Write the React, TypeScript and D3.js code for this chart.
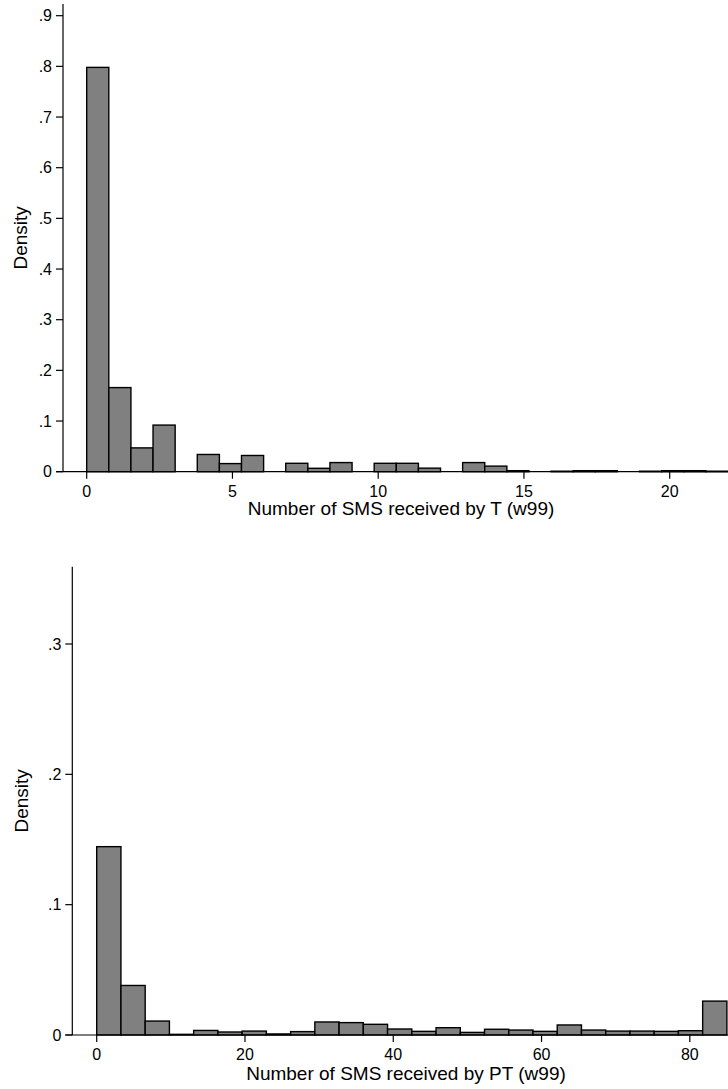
import React from "react";
import * as d3 from "d3";

// ---- Data ----
// Top histogram: Number of SMS received by T (w99), 29 bins over [0, 22]
const topBinWidth = 22 / 29;
const topDensity = [
  0.798, 0.166, 0.047, 0.092, 0, 0.034, 0.016, 0.032, 0, 0.0166, 0.0067, 0.018,
  0, 0.0166, 0.0166, 0.007, 0, 0.018, 0.011, 0.002, 0, 0.001, 0.002, 0.002, 0,
  0.001, 0.002, 0.002, 0.001,
];
const topXTicks = [0, 5, 10, 15, 20];
const topYTicks = [0, 0.1, 0.2, 0.3, 0.4, 0.5, 0.6, 0.7, 0.8, 0.9];
const topTitle = "Number of SMS received by T (w99)";

// Bottom histogram: Number of SMS received by PT (w99), 26 bins over [0, 85]
const botBinWidth = 85 / 26;
const botDensity = [
  0.1445, 0.038, 0.0107, 0.0005, 0.0035, 0.0023, 0.003, 0.0008, 0.0026, 0.01,
  0.0095, 0.0082, 0.0046, 0.0028, 0.0056, 0.002, 0.0044, 0.0038, 0.0028, 0.0077,
  0.0038, 0.003, 0.003, 0.0028, 0.0033, 0.026,
];
const botXTicks = [0, 20, 40, 60, 80];
const botYTicks = [0, 0.1, 0.2, 0.3];
const botTitle = "Number of SMS received by PT (w99)";
const yLabel = "Density";

const FONT = "'Liberation Sans', Arial, Helvetica, sans-serif";
const fmtY = (v: number) => (v === 0 ? "0" : d3.format(".1f")(v).replace(/^0/, ""));

type PanelProps = {
  density: number[];
  binWidth: number;
  xDomainMax: number;
  xRange: [number, number];
  yDomainMax: number;
  yRange: [number, number];
  axisTop: number;
  axisX: number;
  xTicks: number[];
  yTicks: number[];
  title: string;
  titleX: number;
  titleY: number;
  tickLabelY: number;
  densityX: number;
};

function Panel(p: PanelProps) {
  const x = d3.scaleLinear().domain([0, p.xDomainMax]).range(p.xRange);
  const y = d3.scaleLinear().domain([0, p.yDomainMax]).range(p.yRange);
  const y0 = y(0);
  return (
    <g>
      {p.density.map((d, i) => (
        <rect
          key={i}
          x={x(i * p.binWidth)}
          y={y(d)}
          width={x((i + 1) * p.binWidth) - x(i * p.binWidth)}
          height={Math.max(0, y0 - y(d))}
          fill="#808080"
          stroke="#000"
          strokeWidth={1.4}
        />
      ))}
      {/* y axis */}
      <line x1={p.axisX} x2={p.axisX} y1={p.axisTop} y2={y0} stroke="#000" strokeWidth={1.2} />
      {p.yTicks.map((t) => (
        <g key={t}>
          <line x1={p.axisX - 7} x2={p.axisX} y1={y(t)} y2={y(t)} stroke="#000" strokeWidth={1.2} />
          <text
            x={p.axisX - 11}
            y={y(t)}
            dy="0.36em"
            textAnchor="end"
            fontSize={16}
            fontFamily={FONT}
            fill="#000"
          >
            {fmtY(t)}
          </text>
        </g>
      ))}
      {/* x axis */}
      <line x1={p.axisX - 7} x2={728} y1={y0} y2={y0} stroke="#000" strokeWidth={1.2} />
      {p.xTicks.map((t) => (
        <g key={t}>
          <line x1={x(t)} x2={x(t)} y1={y0} y2={y0 + 7} stroke="#000" strokeWidth={1.2} />
          <text x={x(t)} y={p.tickLabelY} textAnchor="middle" fontSize={16} fontFamily={FONT} fill="#000">
            {t}
          </text>
        </g>
      ))}
      <text x={p.titleX} y={p.titleY} textAnchor="middle" fontSize={19} fontFamily={FONT} fill="#000">
        {p.title}
      </text>
      <text
        transform={`translate(${p.densityX},${(p.axisTop + y0) / 2}) rotate(-90)`}
        textAnchor="middle"
        dy="0.36em"
        fontSize={19}
        fontFamily={FONT}
        fill="#000"
      >
        {yLabel}
      </text>
    </g>
  );
}

export default function App() {
  return (
    <svg
      width={728}
      height={1089}
      style={{ position: "absolute", left: 0, top: 0, background: "#fff", display: "block" }}
    >
      <rect x={0} y={0} width={728} height={1089} fill="#fff" />
      <Panel
        density={topDensity}
        binWidth={topBinWidth}
        xDomainMax={22}
        xRange={[86.7, 728]}
        yDomainMax={0.9}
        yRange={[471.7, 15.7]}
        axisTop={4}
        axisX={63}
        xTicks={topXTicks}
        yTicks={topYTicks}
        title={topTitle}
        titleX={401}
        titleY={515}
        tickLabelY={497}
        densityX={20}
      />
      <Panel
        density={botDensity}
        binWidth={botBinWidth}
        xDomainMax={85}
        xRange={[96.7, 726.9]}
        yDomainMax={0.3}
        yRange={[1035, 644]}
        axisTop={566.7}
        axisX={72.3}
        xTicks={botXTicks}
        yTicks={botYTicks}
        title={botTitle}
        titleX={406}
        titleY={1080}
        tickLabelY={1060}
        densityX={21}
      />
    </svg>
  );
}
